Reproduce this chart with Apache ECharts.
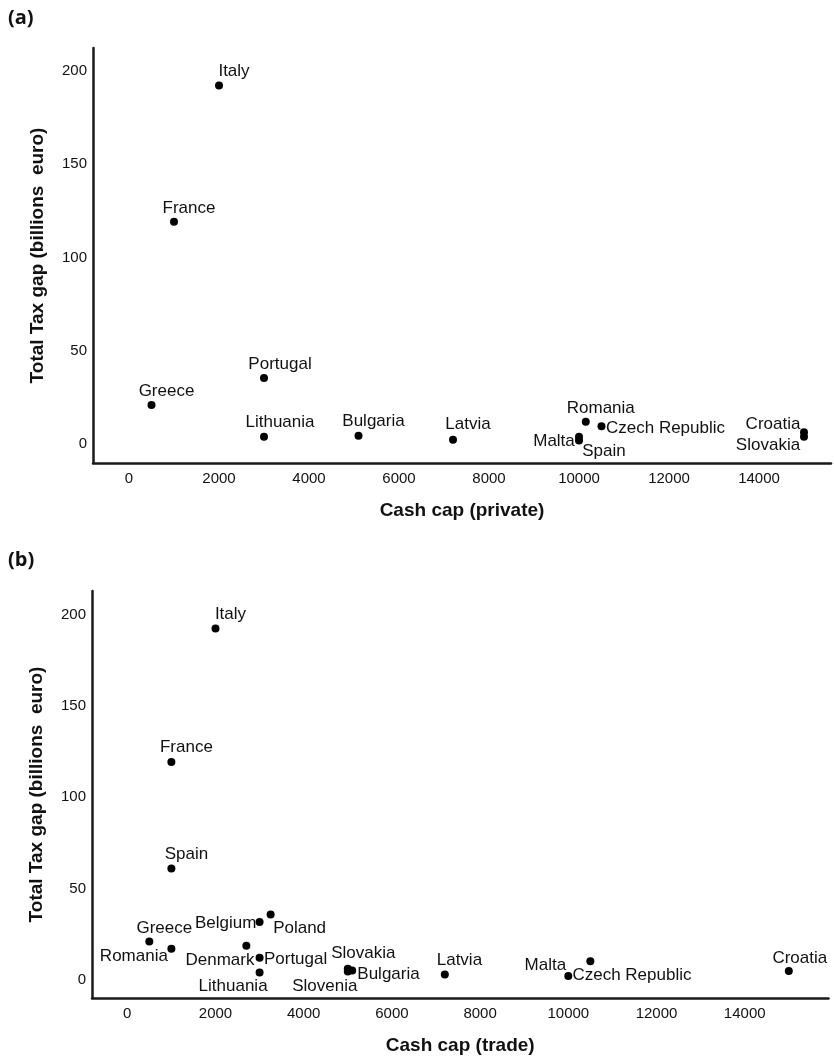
<!DOCTYPE html>
<html>
<head>
<meta charset="utf-8">
<script src="https://cdn.jsdelivr.net/npm/echarts@6/dist/echarts.min.js"></script>
<style>
html,body{margin:0;padding:0;background:#fff;}
#chart{width:834px;height:1059px;}
</style>
</head>
<body>
<div id="chart"></div>
<script>
// ---- Data ----
const privateCountries = ['Italy','France','Greece','Portugal','Lithuania','Bulgaria','Latvia','Romania','Czech Republic','Malta','Spain','Croatia','Slovakia'];
const privateCashCap  = [2000, 1000, 500, 3000, 3000, 5100, 7200, 10150, 10500, 10000, 10000, 15000, 15000];
const privateTaxGap   = [192, 119, 21, 35.5, 4, 4.6, 2.5, 12, 9.6, 4, 2, 6.5, 4];

const tradeCountries = ['Italy','France','Spain','Greece','Belgium','Poland','Romania','Denmark','Portugal','Lithuania','Slovakia','Bulgaria','Slovenia','Latvia','Malta','Czech Republic','Croatia'];
const tradeCashCap   = [2000, 1000, 1000, 500, 3000, 3250, 1000, 2700, 3000, 3000, 5000, 5100, 5000, 7200, 10000, 10500, 15000];
const tradeTaxGap    = [192.5, 119.3, 61, 21, 31.7, 35.8, 17, 18.6, 12, 4, 6, 5, 4.5, 2.9, 2, 10.2, 4.8];

const xTickLabels = [0, 2000, 4000, 6000, 8000, 10000, 12000, 14000];
const yTickLabels = [0, 50, 100, 150, 200];

// ---- Label placement (offset of label centre from point, px) ----
const privateLabelOffsets = {
  'Italy':[15,-14], 'France':[15,-14], 'Greece':[15,-14], 'Portugal':[16,-14],
  'Lithuania':[16,-15], 'Bulgaria':[15,-14], 'Latvia':[15,-15], 'Romania':[15,-14],
  'Czech Republic':[64,2], 'Malta':[-25,4.5], 'Spain':[25,10.5],
  'Croatia':[-31,-7.6], 'Slovakia':[-36,8.5]
};
const tradeLabelOffsets = {
  'Italy':[15,-14], 'France':[15,-14.4], 'Spain':[15,-13.7], 'Greece':[15,-13.3],
  'Belgium':[-34,1], 'Poland':[29,14], 'Romania':[-37.5,7.7], 'Denmark':[-26.4,14.3],
  'Portugal':[36,1.3], 'Lithuania':[-26.5,13.7], 'Slovakia':[15.5,-15.4],
  'Bulgaria':[36.3,3.7], 'Slovenia':[-23,15.2], 'Latvia':[14.6,-14.3],
  'Malta':[-23,-11], 'Czech Republic':[41.6,14.3], 'Croatia':[11,-12.7]
};

const FONT = '"Liberation Sans", Arial, sans-serif';
const TXT = '#111';

function buildData(names, xs, ys, offsets){
  return names.map((n,i)=>({
    name:n,
    value:[xs[i], ys[i]],
    label:{offset: offsets[n] || [0,-14]}
  }));
}

function xAxisCfg(gridIndex, name, max){
  return {
    type:'value', gridIndex, min:-800, max, interval:400,
    name, nameLocation:'middle', nameGap:38,
    nameTextStyle:{fontFamily:FONT, fontSize:19, fontWeight:'bold', color:TXT},
    axisLine:{show:true, onZero:false, lineStyle:{color:'#1a1a1a', width:2.5}},
    axisTick:{show:false}, splitLine:{show:false},
    axisLabel:{fontFamily:FONT, fontSize:15, color:TXT, margin:8,
      showMinLabel:true, showMaxLabel:true,
      formatter:v=> xTickLabels.includes(v) ? String(v) : ''}
  };
}
function yAxisCfg(gridIndex, max){
  return {
    type:'value', gridIndex, min:-10, max, interval:10,
    name:'Total Tax gap (billions  euro)', nameLocation:'middle', nameGap:46,
    nameTextStyle:{fontFamily:FONT, fontSize:19, fontWeight:'bold', color:TXT},
    axisLine:{show:true, onZero:false, lineStyle:{color:'#1a1a1a', width:2.5}},
    axisTick:{show:false}, splitLine:{show:false},
    axisLabel:{fontFamily:FONT, fontSize:15, color:TXT, margin:6,
      formatter:v=> yTickLabels.includes(v) ? String(v) : ''}
  };
}
function seriesCfg(idx, names, xs, ys, offsets){
  return {
    type:'scatter', xAxisIndex:idx, yAxisIndex:idx,
    symbol:'circle', symbolSize:8,
    itemStyle:{color:'#000', opacity:1},
    label:{show:true, position:'inside', align:'center', verticalAlign:'middle',
      formatter:'{b}', fontFamily:FONT, fontSize:17, color:TXT, opacity:1},
    emphasis:{disabled:true},
    data: buildData(names, xs, ys, offsets)
  };
}

const chart = echarts.init(document.getElementById('chart'), null, {renderer:'canvas'});
chart.setOption({
  animation:false,
  backgroundColor:'#fff',
  grid:[
    {left:93, top:48, width:738, height:415},
    {left:92, top:591, width:736.5, height:407}
  ],
  xAxis:[ xAxisCfg(0,'Cash cap (private)',15600), xAxisCfg(1,'Cash cap (trade)',15900) ],
  yAxis:[ yAxisCfg(0,212), yAxisCfg(1,213) ],
  series:[
    seriesCfg(0, privateCountries, privateCashCap, privateTaxGap, privateLabelOffsets),
    seriesCfg(1, tradeCountries, tradeCashCap, tradeTaxGap, tradeLabelOffsets)
  ],
  graphic:[
    {type:'text', left:8, top:8, style:{text:'(a)', font:'bold 20px "Open Sans", sans-serif', fill:'#111'}},
    {type:'text', left:8, top:550, style:{text:'(b)', font:'bold 20px "Open Sans", sans-serif', fill:'#111'}}
  ]
});
</script>
</body>
</html>
